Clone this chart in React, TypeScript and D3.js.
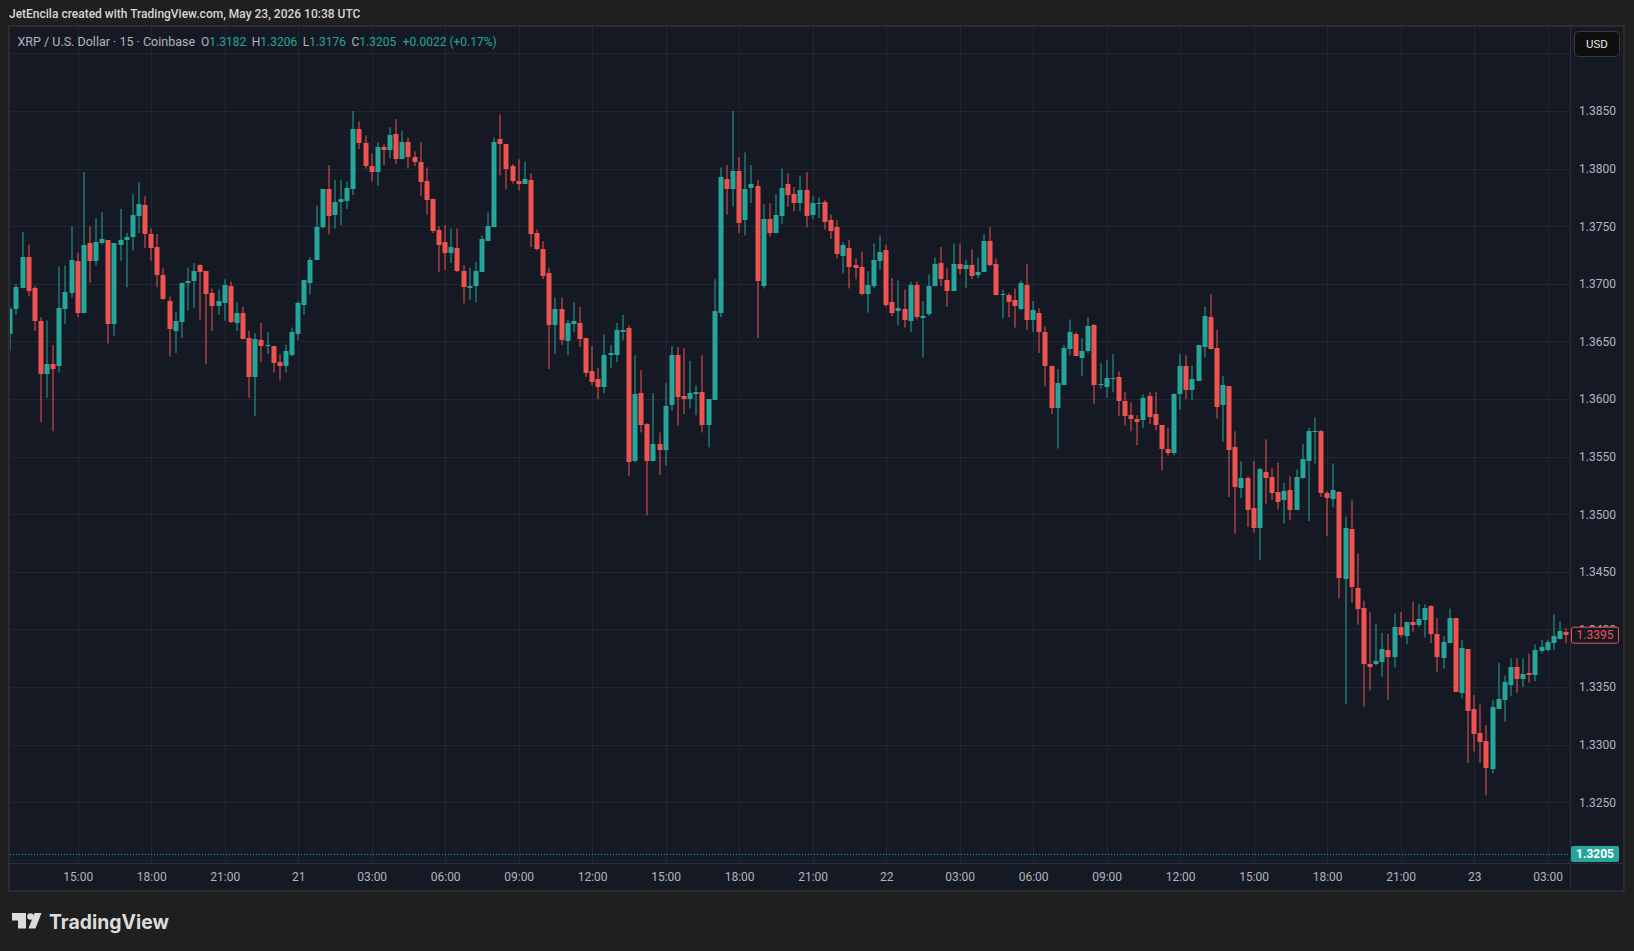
import { useRef, useEffect } from "react";
import * as d3 from "d3";

// XRP / USD, 15 min bars, Coinbase. First visible bar: May 20 2026 12:15 UTC
const FIRST_BAR = Date.UTC(2026, 4, 20, 12, 15);
const BAR_MS = 15 * 60 * 1000;

// one row = 3 hours (row 0 starts at 12:15, the others at 15:00, 18:00, ...)
const opens = [
  1.3656, 1.3678, 1.3696, 1.3723, 1.3696, 1.3668, 1.3622, 1.3630, 1.3629, 1.3678, 1.3692,
  1.3720, 1.3675, 1.3735, 1.3720, 1.3735, 1.3738, 1.3665, 1.3734, 1.3738, 1.3741, 1.3759, 1.3768,
  1.3743, 1.3732, 1.3708, 1.3685, 1.3659, 1.3667, 1.3701, 1.3702, 1.3716, 1.3711, 1.3692, 1.3681,
  1.3683, 1.3698, 1.3666, 1.3675, 1.3653, 1.3619, 1.3651, 1.3646, 1.3646, 1.3632, 1.3629, 1.3638,
  1.3656, 1.3682, 1.3701, 1.3721, 1.3749, 1.3782, 1.3760, 1.3771, 1.3772, 1.3782, 1.3834, 1.3822,
  1.3802, 1.3797, 1.3819, 1.3816, 1.3830, 1.3808, 1.3823, 1.3810, 1.3806, 1.3789, 1.3774, 1.3747,
  1.3736, 1.3727, 1.3731, 1.3711, 1.3696, 1.3698, 1.3710, 1.3737, 1.3749, 1.3826, 1.3821, 1.3802,
  1.3789, 1.3787, 1.3790, 1.3744, 1.3730, 1.3709, 1.3664, 1.3678, 1.3650, 1.3665, 1.3666, 1.3653,
  1.3624, 1.3617, 1.3610, 1.3638, 1.3638, 1.3658, 1.3662, 1.3546, 1.3605, 1.3578, 1.3546, 1.3561,
  1.3556, 1.3595, 1.3638, 1.3603, 1.3600, 1.3604, 1.3606, 1.3577, 1.3599, 1.3675, 1.3791, 1.3782,
  1.3798, 1.3755, 1.3783, 1.3785, 1.3698, 1.3756, 1.3744, 1.3759, 1.3787, 1.3778, 1.3770, 1.3781,
  1.3760, 1.3769, 1.3771, 1.3755, 1.3749, 1.3724, 1.3731, 1.3716, 1.3715, 1.3691, 1.3698, 1.3720,
  1.3729, 1.3684, 1.3676, 1.3678, 1.3668, 1.3699, 1.3670, 1.3674, 1.3698, 1.3718, 1.3703, 1.3694,
  1.3717, 1.3713, 1.3716, 1.3708, 1.3710, 1.3737, 1.3717, 1.3690, 1.3690, 1.3686, 1.3678, 1.3699,
  1.3669, 1.3675, 1.3658, 1.3629, 1.3592, 1.3612, 1.3643, 1.3656, 1.3636, 1.3642, 1.3664, 1.3612,
  1.3610, 1.3617, 1.3619, 1.3598, 1.3586, 1.3583, 1.3582, 1.3603, 1.3587, 1.3577, 1.3557, 1.3553,
  1.3604, 1.3629, 1.3608, 1.3616, 1.3645, 1.3671, 1.3644, 1.3595, 1.3611, 1.3558, 1.3523, 1.3531,
  1.3505, 1.3488, 1.3537, 1.3532, 1.3519, 1.3512, 1.3521, 1.3504, 1.3531, 1.3546, 1.3571, 1.3572,
  1.3518, 1.3513, 1.3519, 1.3444, 1.3487, 1.3436, 1.3419, 1.3370, 1.3370, 1.3372, 1.3382, 1.3376,
  1.3402, 1.3394, 1.3406, 1.3404, 1.3408, 1.3420, 1.3396, 1.3375, 1.3388, 1.3410, 1.3345, 1.3383,
  1.3331, 1.3310, 1.3303, 1.3279, 1.3331, 1.3339, 1.3352, 1.3367, 1.3357, 1.3362, 1.3360, 1.3381,
  1.3382, 1.3388, 1.3392, 1.3398,
];

const highs = [
  1.3680, 1.3700, 1.3745, 1.3734, 1.3698, 1.3671, 1.3668, 1.3647, 1.3715, 1.3716, 1.3750,
  1.3727, 1.3797, 1.3750, 1.3757, 1.3762, 1.3738, 1.3735, 1.3765, 1.3744, 1.3778, 1.3788, 1.3776,
  1.3748, 1.3743, 1.3714, 1.3689, 1.3676, 1.3701, 1.3714, 1.3718, 1.3717, 1.3711, 1.3696, 1.3695,
  1.3704, 1.3702, 1.3684, 1.3680, 1.3659, 1.3657, 1.3666, 1.3658, 1.3646, 1.3639, 1.3647, 1.3662,
  1.3685, 1.3703, 1.3723, 1.3768, 1.3782, 1.3803, 1.3790, 1.3790, 1.3789, 1.3850, 1.3841, 1.3829,
  1.3813, 1.3823, 1.3821, 1.3836, 1.3843, 1.3833, 1.3827, 1.3815, 1.3823, 1.3801, 1.3774, 1.3750,
  1.3751, 1.3748, 1.3748, 1.3716, 1.3714, 1.3719, 1.3742, 1.3762, 1.3827, 1.3847, 1.3821, 1.3804,
  1.3808, 1.3806, 1.3796, 1.3747, 1.3737, 1.3714, 1.3688, 1.3688, 1.3669, 1.3684, 1.3680, 1.3653,
  1.3646, 1.3627, 1.3656, 1.3647, 1.3666, 1.3673, 1.3664, 1.3638, 1.3625, 1.3579, 1.3605, 1.3571,
  1.3614, 1.3646, 1.3645, 1.3644, 1.3633, 1.3612, 1.3638, 1.3600, 1.3704, 1.3801, 1.3803, 1.3850,
  1.3810, 1.3814, 1.3803, 1.3790, 1.3769, 1.3770, 1.3778, 1.3800, 1.3796, 1.3784, 1.3794, 1.3797,
  1.3776, 1.3775, 1.3773, 1.3760, 1.3755, 1.3736, 1.3738, 1.3722, 1.3728, 1.3711, 1.3735, 1.3742,
  1.3734, 1.3705, 1.3703, 1.3695, 1.3702, 1.3702, 1.3685, 1.3708, 1.3723, 1.3732, 1.3714, 1.3735,
  1.3735, 1.3721, 1.3730, 1.3723, 1.3743, 1.3749, 1.3722, 1.3695, 1.3692, 1.3696, 1.3703, 1.3717,
  1.3685, 1.3679, 1.3663, 1.3629, 1.3626, 1.3647, 1.3669, 1.3658, 1.3653, 1.3671, 1.3665, 1.3631,
  1.3634, 1.3639, 1.3624, 1.3606, 1.3597, 1.3586, 1.3604, 1.3606, 1.3606, 1.3577, 1.3575, 1.3605,
  1.3639, 1.3638, 1.3629, 1.3647, 1.3680, 1.3691, 1.3660, 1.3620, 1.3611, 1.3572, 1.3546, 1.3533,
  1.3546, 1.3540, 1.3565, 1.3540, 1.3545, 1.3527, 1.3533, 1.3539, 1.3561, 1.3575, 1.3584, 1.3573,
  1.3520, 1.3544, 1.3520, 1.3498, 1.3512, 1.3466, 1.3425, 1.3415, 1.3405, 1.3397, 1.3396, 1.3414,
  1.3415, 1.3406, 1.3424, 1.3422, 1.3422, 1.3421, 1.3410, 1.3394, 1.3418, 1.3410, 1.3391, 1.3383,
  1.3343, 1.3335, 1.3317, 1.3339, 1.3371, 1.3360, 1.3375, 1.3375, 1.3375, 1.3379, 1.3387, 1.3391,
  1.3391, 1.3413, 1.3407, 1.3401,
];

const lows = [
  1.3642, 1.3673, 1.3696, 1.3689, 1.3659, 1.3580, 1.3601, 1.3572, 1.3623, 1.3665, 1.3688,
  1.3671, 1.3675, 1.3701, 1.3716, 1.3734, 1.3648, 1.3655, 1.3720, 1.3697, 1.3729, 1.3744, 1.3731,
  1.3720, 1.3697, 1.3686, 1.3637, 1.3640, 1.3653, 1.3677, 1.3679, 1.3669, 1.3630, 1.3659, 1.3673,
  1.3668, 1.3666, 1.3659, 1.3652, 1.3601, 1.3585, 1.3632, 1.3639, 1.3623, 1.3616, 1.3623, 1.3637,
  1.3651, 1.3673, 1.3691, 1.3721, 1.3748, 1.3743, 1.3748, 1.3751, 1.3765, 1.3777, 1.3817, 1.3800,
  1.3789, 1.3785, 1.3803, 1.3809, 1.3804, 1.3808, 1.3800, 1.3802, 1.3776, 1.3760, 1.3744, 1.3710,
  1.3712, 1.3718, 1.3710, 1.3683, 1.3686, 1.3684, 1.3710, 1.3737, 1.3749, 1.3794, 1.3782, 1.3787,
  1.3781, 1.3787, 1.3732, 1.3729, 1.3704, 1.3626, 1.3639, 1.3647, 1.3638, 1.3658, 1.3645, 1.3619,
  1.3612, 1.3600, 1.3605, 1.3627, 1.3632, 1.3651, 1.3533, 1.3545, 1.3571, 1.3499, 1.3546, 1.3534,
  1.3542, 1.3590, 1.3577, 1.3587, 1.3592, 1.3586, 1.3571, 1.3558, 1.3599, 1.3671, 1.3760, 1.3767,
  1.3744, 1.3742, 1.3770, 1.3653, 1.3696, 1.3741, 1.3744, 1.3752, 1.3767, 1.3763, 1.3763, 1.3749,
  1.3756, 1.3757, 1.3747, 1.3739, 1.3722, 1.3709, 1.3696, 1.3704, 1.3690, 1.3675, 1.3696, 1.3712,
  1.3680, 1.3672, 1.3664, 1.3662, 1.3658, 1.3669, 1.3636, 1.3672, 1.3698, 1.3698, 1.3680, 1.3694,
  1.3708, 1.3696, 1.3704, 1.3705, 1.3710, 1.3715, 1.3690, 1.3670, 1.3671, 1.3662, 1.3677, 1.3660,
  1.3658, 1.3640, 1.3611, 1.3587, 1.3557, 1.3612, 1.3638, 1.3637, 1.3620, 1.3640, 1.3596, 1.3609,
  1.3601, 1.3606, 1.3585, 1.3577, 1.3572, 1.3560, 1.3575, 1.3578, 1.3573, 1.3538, 1.3551, 1.3551,
  1.3591, 1.3600, 1.3599, 1.3616, 1.3636, 1.3643, 1.3583, 1.3563, 1.3515, 1.3483, 1.3514, 1.3489,
  1.3484, 1.3460, 1.3509, 1.3512, 1.3504, 1.3492, 1.3495, 1.3504, 1.3531, 1.3494, 1.3544, 1.3515,
  1.3481, 1.3506, 1.3427, 1.3335, 1.3423, 1.3404, 1.3333, 1.3347, 1.3369, 1.3359, 1.3339, 1.3367,
  1.3393, 1.3387, 1.3398, 1.3402, 1.3393, 1.3388, 1.3363, 1.3366, 1.3388, 1.3346, 1.3340, 1.3284,
  1.3294, 1.3284, 1.3256, 1.3275, 1.3331, 1.3320, 1.3342, 1.3345, 1.3350, 1.3354, 1.3355, 1.3379,
  1.3381, 1.3382, 1.3392, 1.3388,
];

const closes = [
  1.3678, 1.3697, 1.3723, 1.3694, 1.3668, 1.3622, 1.3630, 1.3626, 1.3679, 1.3693, 1.3721,
  1.3675, 1.3734, 1.3720, 1.3736, 1.3739, 1.3665, 1.3735, 1.3738, 1.3741, 1.3760, 1.3769, 1.3743,
  1.3731, 1.3708, 1.3687, 1.3661, 1.3668, 1.3701, 1.3702, 1.3711, 1.3710, 1.3691, 1.3681, 1.3685,
  1.3699, 1.3667, 1.3675, 1.3652, 1.3619, 1.3652, 1.3646, 1.3647, 1.3631, 1.3629, 1.3642, 1.3658,
  1.3683, 1.3703, 1.3721, 1.3749, 1.3782, 1.3759, 1.3771, 1.3774, 1.3783, 1.3834, 1.3822, 1.3802,
  1.3797, 1.3819, 1.3816, 1.3829, 1.3808, 1.3823, 1.3810, 1.3806, 1.3788, 1.3773, 1.3746, 1.3734,
  1.3727, 1.3732, 1.3711, 1.3697, 1.3698, 1.3711, 1.3739, 1.3750, 1.3823, 1.3821, 1.3800, 1.3789,
  1.3787, 1.3791, 1.3743, 1.3730, 1.3707, 1.3664, 1.3678, 1.3651, 1.3666, 1.3668, 1.3652, 1.3623,
  1.3615, 1.3610, 1.3638, 1.3640, 1.3660, 1.3660, 1.3545, 1.3604, 1.3577, 1.3546, 1.3561, 1.3556,
  1.3594, 1.3638, 1.3602, 1.3600, 1.3605, 1.3606, 1.3577, 1.3600, 1.3676, 1.3793, 1.3782, 1.3798,
  1.3753, 1.3782, 1.3787, 1.3702, 1.3756, 1.3744, 1.3760, 1.3783, 1.3777, 1.3770, 1.3781, 1.3759,
  1.3770, 1.3770, 1.3754, 1.3746, 1.3726, 1.3734, 1.3715, 1.3714, 1.3691, 1.3699, 1.3721, 1.3728,
  1.3682, 1.3675, 1.3679, 1.3669, 1.3699, 1.3671, 1.3672, 1.3698, 1.3717, 1.3704, 1.3694, 1.3717,
  1.3713, 1.3716, 1.3707, 1.3710, 1.3737, 1.3716, 1.3690, 1.3691, 1.3684, 1.3681, 1.3701, 1.3669,
  1.3677, 1.3658, 1.3629, 1.3592, 1.3614, 1.3644, 1.3658, 1.3637, 1.3642, 1.3663, 1.3612, 1.3613,
  1.3618, 1.3618, 1.3598, 1.3585, 1.3583, 1.3580, 1.3601, 1.3584, 1.3577, 1.3557, 1.3553, 1.3604,
  1.3629, 1.3608, 1.3617, 1.3647, 1.3672, 1.3643, 1.3593, 1.3612, 1.3556, 1.3524, 1.3531, 1.3504,
  1.3488, 1.3539, 1.3531, 1.3518, 1.3511, 1.3520, 1.3504, 1.3532, 1.3548, 1.3572, 1.3572, 1.3518,
  1.3514, 1.3521, 1.3445, 1.3488, 1.3437, 1.3418, 1.3370, 1.3367, 1.3373, 1.3383, 1.3376, 1.3402,
  1.3395, 1.3406, 1.3404, 1.3409, 1.3419, 1.3396, 1.3376, 1.3389, 1.3410, 1.3346, 1.3384, 1.3329,
  1.3309, 1.3302, 1.3280, 1.3333, 1.3340, 1.3354, 1.3367, 1.3357, 1.3361, 1.3360, 1.3382, 1.3385,
  1.3389, 1.3394, 1.3399, 1.3395,
];

const priceTicks = [
  1.32, 1.325, 1.33, 1.335, 1.34, 1.345, 1.35, 1.355, 1.36, 1.365, 1.37, 1.375, 1.38, 1.385, 1.39,
];
// labels hidden behind the USD button and the live price badge
const hiddenPriceLabels = [1.32, 1.39];

const livePrice = 1.3205;
const legendTitle = "XRP / U.S. Dollar · 15 · Coinbase";
const legendFields = [
  ["O", "1.3182"],
  ["H", "1.3206"],
  ["L", "1.3176"],
  ["C", "1.3205"],
];
const legendChange = "+0.0022 (+0.17%)";
const headerText = "JetEncila created with TradingView.com, May 23, 2026 10:38 UTC";

const UP = "#26a69a";
const DOWN = "#ef5350";
const FONT = "Roboto, 'Liberation Sans', sans-serif";

export default function App() {
  const svgRef = useRef<SVGSVGElement>(null);

  useEffect(() => {
    const el = svgRef.current;
    if (!el) return;
    document.body.style.margin = "0";
    document.body.style.background = "#1f1f1f";

    const width = 1634;
    const height = 951;
    const frame = { left: 9, top: 26, right: 1624, bottom: 891 };
    const plot = { left: 10, top: 27, right: 1570, bottom: 863 };

    const bars = opens.map((o, i) => ({
      t: new Date(FIRST_BAR + i * BAR_MS),
      o,
      h: highs[i],
      l: lows[i],
      c: closes[i],
    }));

    const x = d3
      .scaleUtc()
      .domain([
        new Date(FIRST_BAR - 0.05 * BAR_MS),
        new Date(FIRST_BAR + (bars.length - 1 + 0.65) * BAR_MS),
      ])
      .range([plot.left, plot.right]);

    const y = d3.scaleLinear().domain([1.32, 1.385]).range([859.8, 111]);

    const sel = d3.select(el);
    sel.selectAll("*").remove();
    sel.attr("width", width).attr("height", height).style("font-family", FONT);

    sel.append("rect").attr("width", width).attr("height", height).attr("fill", "#1f1f1f");

    // header
    sel
      .append("text")
      .attr("x", 9)
      .attr("y", 18)
      .attr("fill", "#d6d6d6")
      .attr("font-size", 12)
      .attr("font-weight", 500)
      .text(headerText);

    // chart frame
    sel
      .append("rect")
      .attr("x", frame.left)
      .attr("y", frame.top)
      .attr("width", frame.right - frame.left)
      .attr("height", frame.bottom - frame.top)
      .attr("fill", "#151924")
      .attr("stroke", "#2c2c2c")
      .attr("stroke-width", 2);

    sel
      .append("defs")
      .append("clipPath")
      .attr("id", "plot-clip")
      .append("rect")
      .attr("x", plot.left)
      .attr("y", plot.top)
      .attr("width", plot.right - plot.left)
      .attr("height", plot.bottom - plot.top);

    const timeTicks = d3.utcHour
      .every(3)!
      .range(new Date(FIRST_BAR), x.domain()[1]);

    // grid
    const grid = sel.append("g").attr("clip-path", "url(#plot-clip)");
    grid
      .selectAll("line.v")
      .data(timeTicks)
      .join("line")
      .attr("class", "v")
      .attr("x1", (d) => Math.round(x(d)) + 0.5)
      .attr("x2", (d) => Math.round(x(d)) + 0.5)
      .attr("y1", plot.top)
      .attr("y2", plot.bottom)
      .attr("stroke", "#232632");
    grid
      .selectAll("line.h")
      .data(priceTicks)
      .join("line")
      .attr("class", "h")
      .attr("x1", plot.left)
      .attr("x2", plot.right)
      .attr("y1", (d) => Math.round(y(d)) + 0.5)
      .attr("y2", (d) => Math.round(y(d)) + 0.5)
      .attr("stroke", "#232632");

    // axis separators
    sel
      .append("line")
      .attr("x1", plot.right + 0.5)
      .attr("x2", plot.right + 0.5)
      .attr("y1", frame.top)
      .attr("y2", frame.bottom)
      .attr("stroke", "#2a2e39");
    sel
      .append("line")
      .attr("x1", frame.left)
      .attr("x2", frame.right)
      .attr("y1", plot.bottom + 0.5)
      .attr("y2", plot.bottom + 0.5)
      .attr("stroke", "#2a2e39");

    // live price dotted line
    sel
      .append("line")
      .attr("x1", plot.left)
      .attr("x2", plot.right)
      .attr("y1", Math.round(y(livePrice)) + 0.5)
      .attr("y2", Math.round(y(livePrice)) + 0.5)
      .attr("stroke", UP)
      .attr("stroke-dasharray", "1 2");

    // candles
    const bodyW = 5;
    const candles = sel
      .append("g")
      .attr("clip-path", "url(#plot-clip)")
      .selectAll("g")
      .data(bars)
      .join("g")
      .attr("fill", (d) => (d.c >= d.o ? UP : DOWN));
    candles
      .append("rect")
      .attr("x", (d) => Math.round(x(d.t)) - 0.5)
      .attr("width", 1)
      .attr("y", (d) => y(d.h))
      .attr("height", (d) => Math.max(1, y(d.l) - y(d.h)));
    candles
      .append("rect")
      .attr("x", (d) => Math.round(x(d.t)) - bodyW / 2)
      .attr("width", bodyW)
      .attr("y", (d) => Math.round(y(Math.max(d.o, d.c))))
      .attr("height", (d) =>
        Math.max(1, Math.round(y(Math.min(d.o, d.c))) - Math.round(y(Math.max(d.o, d.c))))
      );

    // time axis
    const dayOrTime = (d: Date) =>
      d.getUTCHours() === 0 ? String(d.getUTCDate()) : d3.utcFormat("%H:%M")(d);
    sel
      .append("g")
      .attr("transform", `translate(0,${plot.bottom})`)
      .call(
        d3
          .axisBottom(x)
          .tickValues(timeTicks)
          .tickFormat((d) => dayOrTime(d as Date))
          .tickSize(0)
          .tickPadding(9)
      )
      .call((g) => g.select(".domain").remove())
      .call((g) =>
        g
          .selectAll("text")
          .attr("fill", "#b2b5be")
          .attr("font-size", 12)
          .attr("font-family", FONT)
      );

    // price axis
    sel
      .append("g")
      .attr("transform", `translate(${plot.right},0)`)
      .call(
        d3
          .axisRight(y)
          .tickValues(priceTicks.filter((p) => !hiddenPriceLabels.includes(p)))
          .tickFormat(d3.format(".4f"))
          .tickSize(0)
          .tickPadding(9)
      )
      .call((g) => g.select(".domain").remove())
      .call((g) =>
        g
          .selectAll("text")
          .attr("fill", "#b2b5be")
          .attr("font-size", 12)
          .attr("font-family", FONT)
      );

    // last bar close badge (drawn over the 1.3400 label, as in TradingView)
    const last = bars[bars.length - 1];
    const lastY = y(last.c);
    sel
      .append("rect")
      .attr("x", plot.right + 1.5)
      .attr("y", lastY - 8)
      .attr("width", 47)
      .attr("height", 16)
      .attr("rx", 2)
      .attr("fill", "#151924")
      .attr("stroke", last.c >= last.o ? UP : DOWN);
    sel
      .append("text")
      .attr("x", plot.right + 25)
      .attr("y", lastY)
      .attr("dy", "0.35em")
      .attr("text-anchor", "middle")
      .attr("fill", last.c >= last.o ? UP : DOWN)
      .attr("font-size", 12)
      .text(d3.format(".4f")(last.c));

    // live price badge
    const liveY = y(livePrice);
    sel
      .append("rect")
      .attr("x", plot.right + 1)
      .attr("y", liveY - 8)
      .attr("width", 48)
      .attr("height", 16)
      .attr("rx", 2)
      .attr("fill", UP);
    sel
      .append("text")
      .attr("x", plot.right + 25)
      .attr("y", liveY)
      .attr("dy", "0.35em")
      .attr("text-anchor", "middle")
      .attr("fill", "#ffffff")
      .attr("font-size", 12)
      .attr("font-weight", 700)
      .text(d3.format(".4f")(livePrice));

    // USD button
    sel
      .append("rect")
      .attr("x", 1574.5)
      .attr("y", 31.5)
      .attr("width", 45)
      .attr("height", 25)
      .attr("rx", 4)
      .attr("fill", "#0e0e0e")
      .attr("stroke", "#3a3a3a");
    sel
      .append("text")
      .attr("x", 1597)
      .attr("y", 44)
      .attr("dy", "0.35em")
      .attr("text-anchor", "middle")
      .attr("fill", "#e6e6e6")
      .attr("font-size", 11.5)
      .text("USD");

    // legend
    const legend = sel
      .append("text")
      .attr("x", 17.5)
      .attr("y", 46)
      .attr("font-size", 12)
      .attr("fill", "#b2b5be");
    legend.append("tspan").attr("font-size", 12.5).text(legendTitle);
    legendFields.forEach(([k, v], i) => {
      legend
        .append("tspan")
        .attr("dx", i === 0 ? 6 : 5.5)
        .text(k);
      legend.append("tspan").attr("fill", UP).text(v);
    });
    legend.append("tspan").attr("dx", 6.5).attr("fill", UP).text(legendChange);

    // TradingView logo
    const logo = sel.append("g").attr("fill", "#dcdcdc");
    logo.append("path").attr("d", "M12,913 H26 V928.5 H18 V920.5 H12 Z");
    logo.append("circle").attr("cx", 30.5).attr("cy", 916.5).attr("r", 3.3);
    logo.append("path").attr("d", "M34.5,913 H41.5 L35.5,928.5 H28.5 Z");
    logo
      .append("text")
      .attr("x", 49)
      .attr("y", 928.5)
      .attr("font-family", "Inter, Lato, sans-serif")
      .attr("font-size", 20)
      .attr("font-weight", 700)
      .attr("textLength", 120)
      .attr("lengthAdjust", "spacingAndGlyphs")
      .attr("fill", "#dcdcdc")
      .text("TradingView");
  }, []);

  return <svg ref={svgRef} style={{ display: "block" }} />;
}
